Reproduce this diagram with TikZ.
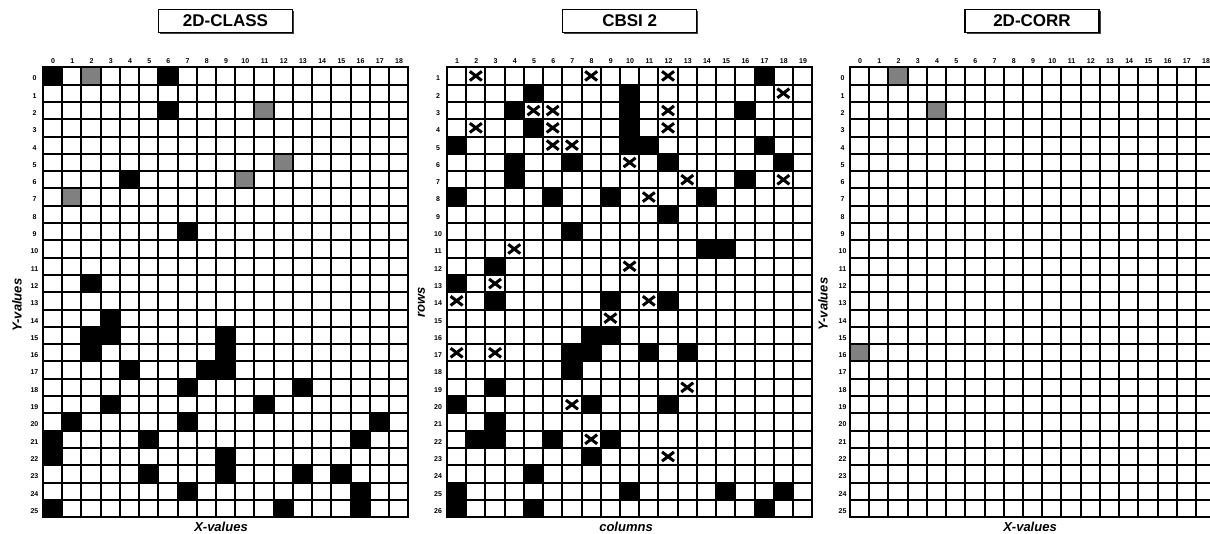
\documentclass[tikz,border=0pt]{standalone}
\usepackage{fontspec}
\setmainfont{Liberation Sans}
\definecolor{cellgray}{HTML}{808080}
\begin{document}
\begin{tikzpicture}[x=1pt,y=-1pt,
  gridline/.style={line width=2pt, line cap=rect},
  xmark/.style={line width=3pt},
  ticklabel/.style={font=\fontsize{7}{8}\selectfont\bfseries, inner sep=0pt},
  axislabel/.style={font=\fontsize{13}{15}\selectfont\bfseries\itshape, inner sep=0pt},
  titlebox/.style={draw, line width=1.4pt, fill=white, minimum width=134pt, minimum height=23pt, font=\fontsize{17}{19}\selectfont\bfseries, inner sep=0pt},
  boxshadow/.style={fill=black!75}
]
\def\cw{19.22}
\def\ch{17.3}
\def\oy{67.3}
\useasboundingbox (0,0) rectangle (1210,533);
\clip (0,0) rectangle (1210,533);
\fill[white] (0,0) rectangle (1210,533);

% ---------- titles ----------
\fill[boxshadow] (160.0,11.0) rectangle (294.0,34.0);
\node[titlebox] (t1) at (225.5,21) {2D-CLASS};
\fill[boxshadow] (564.2,11.0) rectangle (698.2,34.0);
\node[titlebox] (t2) at (629.7,21) {CBSI 2};
\fill[boxshadow] (966.5,11.0) rectangle (1100.5,34.0);
\node[titlebox] (t3) at (1032,21) {2D-CORR};

% ---------- grid 1: 2D-CLASS ----------
\def\ox{43}
\foreach \c/\r in {0/0,6/0,6/2,4/6,7/9,2/12,3/14,2/15,3/15,9/15,2/16,9/16,4/17,8/17,9/17,7/18,13/18,3/19,11/19,1/20,7/20,17/20,0/21,5/21,16/21,0/22,9/22,5/23,9/23,13/23,15/23,7/24,16/24,0/25,12/25,16/25}
  \fill[black] ({\ox+\c*\cw},{\oy+\r*\ch}) rectangle +(\cw,\ch);
\foreach \c/\r in {2/0,11/2,12/5,10/6,1/7}
  \fill[cellgray] ({\ox+\c*\cw},{\oy+\r*\ch}) rectangle +(\cw,\ch);
\foreach \i in {0,...,19}
  \draw[gridline] ({\ox+\i*\cw},\oy) -- ({\ox+\i*\cw},{\oy+26*\ch});
\foreach \j in {0,...,26}
  \draw[gridline] (\ox,{\oy+\j*\ch}) -- ({\ox+19*\cw},{\oy+\j*\ch});
\foreach \i in {0,...,18}
  \node[ticklabel] (ga\i) at ({\ox+(\i+0.5)*\cw+0.5},61.5) {\i};
\foreach \j in {0,...,25}
  \node[ticklabel] (gar\j) at ({\ox-8.5},{\oy+(\j+0.5)*\ch+2.5}) {\j};
\node[axislabel, rotate=90] (yl1) at (17,305) {Y-values};
\node[axislabel, anchor=base] (xl1) at (221,531.8) {X-values};

% ---------- grid 2: CBSI 2 ----------
\def\ox{447}
\foreach \c/\r in {17/1,5/2,10/2,4/3,10/3,16/3,5/4,10/4,1/5,10/5,11/5,17/5,4/6,7/6,12/6,18/6,4/7,16/7,1/8,6/8,9/8,14/8,12/9,7/10,14/11,15/11,3/12,1/13,3/14,9/14,12/14,8/16,9/16,7/17,8/17,11/17,13/17,7/18,3/19,1/20,8/20,12/20,3/21,2/22,3/22,6/22,9/22,8/23,5/24,1/25,10/25,15/25,18/25,1/26,5/26,17/26}
  \fill[black] ({\ox+(\c-1)*\cw},{\oy+(\r-1)*\ch}) rectangle +(\cw,\ch);
\foreach \i in {0,...,19}
  \draw[gridline] ({\ox+\i*\cw},\oy) -- ({\ox+\i*\cw},{\oy+26*\ch});
\foreach \j in {0,...,26}
  \draw[gridline] (\ox,{\oy+\j*\ch}) -- ({\ox+19*\cw},{\oy+\j*\ch});
\foreach \c/\r in {2/1,8/1,12/1,18/2,5/3,6/3,12/3,2/4,6/4,12/4,6/5,7/5,10/6,13/7,18/7,11/8,4/11,10/12,3/13,1/14,11/14,9/15,1/17,3/17,13/19,7/20,8/22,12/23}
  \draw[xmark] ({\ox+(\c-0.5)*\cw-6.0},{\oy+(\r-0.5)*\ch-4.6}) -- ++(12.0,9.2)
               ({\ox+(\c-0.5)*\cw-6.0},{\oy+(\r-0.5)*\ch+4.6}) -- ++(12.0,-9.2);
\foreach \i in {1,...,19}
  \node[ticklabel] (gb\i) at ({\ox+(\i-0.5)*\cw+0.5},61.5) {\i};
\foreach \j in {1,...,26}
  \node[ticklabel] (gbr\j) at ({\ox-9},{\oy+(\j-0.5)*\ch+2.5}) {\j};
\node[axislabel, rotate=90] (yl2) at (421.5,302) {rows};
\node[axislabel, anchor=base] (xl2) at (626,531.8) {columns};

% ---------- grid 3: 2D-CORR ----------
\def\ox{850}
\foreach \c/\r in {2/0,4/2,0/16}
  \fill[cellgray] ({\ox+\c*\cw},{\oy+\r*\ch}) rectangle +(\cw,\ch);
\foreach \i in {0,...,19}
  \draw[gridline] ({\ox+\i*\cw},\oy) -- ({\ox+\i*\cw},{\oy+26*\ch});
\foreach \j in {0,...,26}
  \draw[gridline] (\ox,{\oy+\j*\ch}) -- ({\ox+19*\cw},{\oy+\j*\ch});
\foreach \i in {0,...,18}
  \node[ticklabel] (gc\i) at ({\ox+(\i+0.5)*\cw+0.5},61.5) {\i};
\foreach \j in {0,...,25}
  \node[ticklabel] (gcr\j) at ({\ox-7.5},{\oy+(\j+0.5)*\ch+2.5}) {\j};
\node[axislabel, rotate=90] (yl3) at (823,304) {Y-values};
\node[axislabel, anchor=base] (xl3) at (1030,531.8) {X-values};
\end{tikzpicture}
\end{document}
